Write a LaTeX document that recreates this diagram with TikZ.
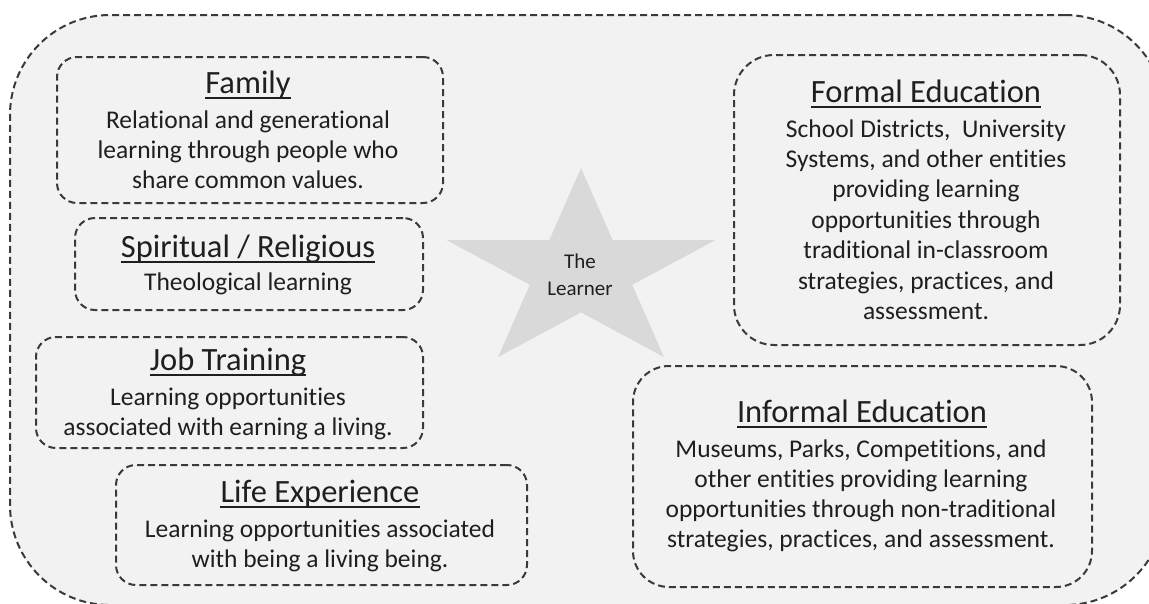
\documentclass[tikz,border=0pt]{standalone}
\usepackage{fontspec}
\setmainfont{Carlito}[Ligatures=NoCommon]
\definecolor{bgfill}{HTML}{F2F2F2}
\definecolor{starfill}{HTML}{D9D9D9}
\definecolor{txt}{HTML}{1F1F1F}
\definecolor{dashcol}{HTML}{3A3A3A}
\begin{document}
\begin{tikzpicture}[x=1pt,y=-1pt,
  dashbox/.style={draw=dashcol, line width=2pt, dash pattern=on 7pt off 4pt, fill=bgfill, inner sep=0pt, rectangle},
  ttl/.style={font=\fontsize{32.5}{38}\selectfont, text=txt, inner sep=0pt, anchor=base},
  body/.style={font=\fontsize{25.5}{30}\selectfont, text=txt, inner sep=0pt, anchor=base},
  small/.style={font=\fontsize{21}{26}\selectfont, text=txt, inner sep=0pt, anchor=base},
  uline/.style={draw=txt, line width=2pt}]
\clip (0,0) rectangle (1149,603);
\fill[white] (0,0) rectangle (1149,603);
% outer frame
\node[dashbox, rounded corners=100pt, minimum width=1155pt, minimum height=590pt] (frame) at (587.5,310) {};
% star
\fill[starfill] (581,168) -- (612.7,240.2) -- (715.2,240.2) -- (632.2,284.8) -- (663.9,357) -- (581,312.4) -- (498.1,357) -- (529.8,284.8) -- (446.8,240.2) -- (549.3,240.2) -- cycle;
\node[small] (learner1) at (580,268) {The};
\node[small] (learner2) at (580,295) {Learner};
% boxes
\node[dashbox, rounded corners=20pt, minimum width=386pt, minimum height=146pt] (family) at (250,130) {};
\node[dashbox, rounded corners=20pt, minimum width=348pt, minimum height=92pt] (spirit) at (249,264) {};
\node[dashbox, rounded corners=20pt, minimum width=387pt, minimum height=111pt] (job) at (229.5,392.5) {};
\node[dashbox, rounded corners=20pt, minimum width=411pt, minimum height=120pt] (life) at (321.5,525) {};
\node[dashbox, rounded corners=40pt, minimum width=386pt, minimum height=290pt] (formal) at (927,200) {};
\node[dashbox, rounded corners=36pt, minimum width=459pt, minimum height=221pt] (informal) at (862.5,476.5) {};
% Family
\node[ttl] (famT) at (248,93) {Family};
\foreach \t [count=\i] in {{Relational and generational},{learning through people who},{share common values.}}
  \node[body] (fam\i) at (248,128+30*\i-30) {\t};
% Spiritual
\node[ttl] (spiT) at (248,257) {Spiritual / Religious};
\node[body] (spi1) at (248,290) {Theological learning};
% Job
\node[ttl] (jobT) at (228,370) {Job Training};
\foreach \t [count=\i] in {{Learning opportunities},{associated with earning a living.}}
  \node[body] (job\i) at (228,405+30*\i-30) {\t};
% Life
\node[ttl] (lifeT) at (320,502) {Life Experience};
\foreach \t [count=\i] in {{Learning opportunities associated},{with being a living being.}}
  \node[body] (life\i) at (320,537+30*\i-30) {\t};
% Formal
\node[ttl] (forT) at (926,102) {Formal Education};
\foreach \t [count=\i] in {{School Districts,\ \ University},{Systems, and other entities},{providing learning},{opportunities through},{traditional in-classroom},{strategies, practices, and},{assessment.}}
  \node[body] (for\i) at (926,137+30.4*\i-30.4) {\t};
% Informal
\node[ttl] (infT) at (862,422) {Informal Education};
\foreach \t [count=\i] in {{Museums, Parks, Competitions, and},{other entities providing learning},{opportunities through non-traditional},{strategies, practices, and assessment.}}
  \node[body] (inf\i) at (861,457+30.3*\i-30.3) {\t};
% underlines
\foreach \n in {famT,spiT,jobT,lifeT,forT,infT}
  \draw[uline] ([yshift=-5pt]\n.base west) -- ([yshift=-5pt]\n.base east);
\end{tikzpicture}
\end{document}
